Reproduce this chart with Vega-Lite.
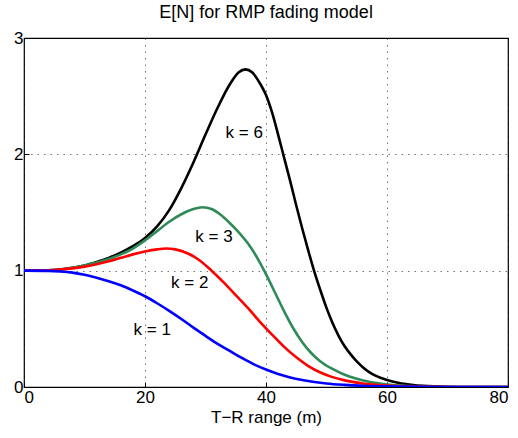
{
  "$schema": "https://vega.github.io/schema/vega-lite/v6.json",
  "autosize": "none",
  "width": 484,
  "height": 349,
  "padding": {"left": 24, "top": 38, "right": 10, "bottom": 51},
  "background": "white",
  "config": {
    "font": "Liberation Sans",
    "view": {"stroke": "black", "strokeWidth": 1.2},
    "axis": {
      "domain": false,
      "grid": true,
      "gridColor": "#000000",
      "gridOpacity": 0.55,
      "gridDash": [1.5, 5],
      "gridWidth": 1,
      "tickColor": "black",
      "tickSize": -5,
      "labelFont": "Liberation Sans",
      "labelFontSize": 17,
      "labelColor": "black",
      "titleFont": "Liberation Sans",
      "titleFontSize": 17,
      "titleFontWeight": "normal",
      "titleColor": "black"
    }
  },
  "title": {
    "text": "E[N] for RMP fading model",
    "font": "Liberation Sans",
    "fontSize": 18,
    "fontWeight": "normal",
    "color": "black",
    "anchor": "middle",
    "offset": 7
  },
  "datasets": {
    "curves": [
      {"k": "6", "x": 0, "y": 1.0}, {"k": "6", "x": 4, "y": 1.003}, {"k": "6", "x": 6, "y": 1.01}, {"k": "6", "x": 8, "y": 1.025},
      {"k": "6", "x": 10, "y": 1.045}, {"k": "6", "x": 12, "y": 1.075}, {"k": "6", "x": 14, "y": 1.11}, {"k": "6", "x": 16, "y": 1.155},
      {"k": "6", "x": 18, "y": 1.21}, {"k": "6", "x": 20, "y": 1.28}, {"k": "6", "x": 22, "y": 1.38}, {"k": "6", "x": 24, "y": 1.52},
      {"k": "6", "x": 26, "y": 1.71}, {"k": "6", "x": 28, "y": 1.93}, {"k": "6", "x": 30, "y": 2.17}, {"k": "6", "x": 32, "y": 2.4},
      {"k": "6", "x": 34, "y": 2.6}, {"k": "6", "x": 35.5, "y": 2.705}, {"k": "6", "x": 36.6, "y": 2.73}, {"k": "6", "x": 37.7, "y": 2.705},
      {"k": "6", "x": 39, "y": 2.61}, {"k": "6", "x": 40, "y": 2.51}, {"k": "6", "x": 41, "y": 2.36},
      {"k": "6", "x": 42, "y": 2.17}, {"k": "6", "x": 43, "y": 1.97}, {"k": "6", "x": 44, "y": 1.77}, {"k": "6", "x": 45, "y": 1.56},
      {"k": "6", "x": 46, "y": 1.36}, {"k": "6", "x": 47, "y": 1.17}, {"k": "6", "x": 48, "y": 0.99}, {"k": "6", "x": 49, "y": 0.83},
      {"k": "6", "x": 50, "y": 0.68}, {"k": "6", "x": 51, "y": 0.55}, {"k": "6", "x": 52, "y": 0.44}, {"k": "6", "x": 53, "y": 0.35},
      {"k": "6", "x": 54, "y": 0.28}, {"k": "6", "x": 55, "y": 0.22}, {"k": "6", "x": 56, "y": 0.17}, {"k": "6", "x": 57, "y": 0.13},
      {"k": "6", "x": 58, "y": 0.1}, {"k": "6", "x": 60, "y": 0.06}, {"k": "6", "x": 62, "y": 0.035}, {"k": "6", "x": 64, "y": 0.02},
      {"k": "6", "x": 66, "y": 0.01}, {"k": "6", "x": 68, "y": 0.005}, {"k": "6", "x": 70, "y": 0.002}, {"k": "6", "x": 72, "y": 0.0},
      {"k": "6", "x": 80, "y": 0.0},

      {"k": "3", "x": 0, "y": 1.0}, {"k": "3", "x": 4, "y": 1.003}, {"k": "3", "x": 6, "y": 1.01}, {"k": "3", "x": 8, "y": 1.025},
      {"k": "3", "x": 10, "y": 1.045}, {"k": "3", "x": 12, "y": 1.07}, {"k": "3", "x": 14, "y": 1.1}, {"k": "3", "x": 16, "y": 1.14},
      {"k": "3", "x": 18, "y": 1.19}, {"k": "3", "x": 20, "y": 1.26}, {"k": "3", "x": 22, "y": 1.34}, {"k": "3", "x": 24, "y": 1.42},
      {"k": "3", "x": 26, "y": 1.485}, {"k": "3", "x": 28, "y": 1.53}, {"k": "3", "x": 29.5, "y": 1.545}, {"k": "3", "x": 31, "y": 1.53},
      {"k": "3", "x": 32.5, "y": 1.48}, {"k": "3", "x": 34, "y": 1.41}, {"k": "3", "x": 35.5, "y": 1.33}, {"k": "3", "x": 37, "y": 1.235},
      {"k": "3", "x": 38.5, "y": 1.115}, {"k": "3", "x": 40, "y": 0.97}, {"k": "3", "x": 41.5, "y": 0.81}, {"k": "3", "x": 43, "y": 0.65},
      {"k": "3", "x": 44.5, "y": 0.505}, {"k": "3", "x": 46, "y": 0.385}, {"k": "3", "x": 47.5, "y": 0.29}, {"k": "3", "x": 49, "y": 0.22},
      {"k": "3", "x": 51, "y": 0.155}, {"k": "3", "x": 53, "y": 0.105}, {"k": "3", "x": 55, "y": 0.07}, {"k": "3", "x": 57, "y": 0.045},
      {"k": "3", "x": 60, "y": 0.022}, {"k": "3", "x": 63, "y": 0.01}, {"k": "3", "x": 66, "y": 0.004}, {"k": "3", "x": 70, "y": 0.0},
      {"k": "3", "x": 80, "y": 0.0},

      {"k": "2", "x": 0, "y": 1.0}, {"k": "2", "x": 4, "y": 1.003}, {"k": "2", "x": 6, "y": 1.01}, {"k": "2", "x": 8, "y": 1.02},
      {"k": "2", "x": 10, "y": 1.035}, {"k": "2", "x": 12, "y": 1.055}, {"k": "2", "x": 14, "y": 1.08}, {"k": "2", "x": 16, "y": 1.11},
      {"k": "2", "x": 18, "y": 1.14}, {"k": "2", "x": 20, "y": 1.165}, {"k": "2", "x": 22, "y": 1.183}, {"k": "2", "x": 23.5, "y": 1.19},
      {"k": "2", "x": 25, "y": 1.183}, {"k": "2", "x": 27, "y": 1.15}, {"k": "2", "x": 29, "y": 1.09}, {"k": "2", "x": 31, "y": 1.0},
      {"k": "2", "x": 33, "y": 0.9}, {"k": "2", "x": 35, "y": 0.79}, {"k": "2", "x": 37, "y": 0.68}, {"k": "2", "x": 39, "y": 0.56},
      {"k": "2", "x": 41, "y": 0.45}, {"k": "2", "x": 43, "y": 0.345}, {"k": "2", "x": 45, "y": 0.255}, {"k": "2", "x": 47, "y": 0.18},
      {"k": "2", "x": 49, "y": 0.125}, {"k": "2", "x": 51, "y": 0.085}, {"k": "2", "x": 53, "y": 0.057}, {"k": "2", "x": 56, "y": 0.03},
      {"k": "2", "x": 60, "y": 0.012}, {"k": "2", "x": 65, "y": 0.003}, {"k": "2", "x": 70, "y": 0.0}, {"k": "2", "x": 80, "y": 0.0},

      {"k": "1", "x": 0, "y": 1.0}, {"k": "1", "x": 4, "y": 0.998}, {"k": "1", "x": 6, "y": 0.993}, {"k": "1", "x": 8, "y": 0.983},
      {"k": "1", "x": 10, "y": 0.965}, {"k": "1", "x": 12, "y": 0.94}, {"k": "1", "x": 14, "y": 0.91}, {"k": "1", "x": 16, "y": 0.875},
      {"k": "1", "x": 18, "y": 0.83}, {"k": "1", "x": 20, "y": 0.78}, {"k": "1", "x": 22, "y": 0.72}, {"k": "1", "x": 24, "y": 0.655},
      {"k": "1", "x": 26, "y": 0.585}, {"k": "1", "x": 28, "y": 0.51}, {"k": "1", "x": 30, "y": 0.44}, {"k": "1", "x": 32, "y": 0.37},
      {"k": "1", "x": 34, "y": 0.31}, {"k": "1", "x": 36, "y": 0.25}, {"k": "1", "x": 38, "y": 0.195}, {"k": "1", "x": 40, "y": 0.15},
      {"k": "1", "x": 42, "y": 0.112}, {"k": "1", "x": 44, "y": 0.082}, {"k": "1", "x": 46, "y": 0.06}, {"k": "1", "x": 48, "y": 0.043},
      {"k": "1", "x": 50, "y": 0.03}, {"k": "1", "x": 53, "y": 0.018}, {"k": "1", "x": 56, "y": 0.01}, {"k": "1", "x": 60, "y": 0.005},
      {"k": "1", "x": 66, "y": 0.001}, {"k": "1", "x": 70, "y": 0.0}, {"k": "1", "x": 80, "y": 0.0}
    ],
    "labels": [
      {"label": "k = 6", "x": 36.4, "y": 2.18},
      {"label": "k = 3", "x": 31.4, "y": 1.29},
      {"label": "k = 2", "x": 27.4, "y": 0.89},
      {"label": "k = 1", "x": 21.2, "y": 0.49}
    ]
  },
  "layer": [
    {
      "data": {"name": "curves"},
      "mark": {"type": "line", "strokeWidth": 2.6, "interpolate": "monotone", "clip": true},
      "encoding": {
        "x": {
          "field": "x", "type": "quantitative",
          "scale": {"domain": [0, 80], "nice": false},
          "axis": {"values": [0, 20, 40, 60, 80], "title": "T\u2212R range (m)", "labelPadding": 7, "titlePadding": 4}
        },
        "y": {
          "field": "y", "type": "quantitative",
          "scale": {"domain": [0, 3], "nice": false},
          "axis": {"values": [0, 1, 2, 3], "format": "d", "title": null, "labelPadding": 6}
        },
        "color": {
          "field": "k", "type": "nominal",
          "scale": {"domain": ["6", "3", "2", "1"], "range": ["#000000", "#2E8B57", "#FF0000", "#0000FF"]},
          "legend": null
        }
      }
    },
    {
      "data": {"name": "labels"},
      "mark": {"type": "text", "font": "Liberation Sans", "fontSize": 17, "color": "black", "align": "center", "baseline": "middle"},
      "encoding": {
        "x": {"field": "x", "type": "quantitative"},
        "y": {"field": "y", "type": "quantitative"},
        "text": {"field": "label"}
      }
    }
  ]
}
